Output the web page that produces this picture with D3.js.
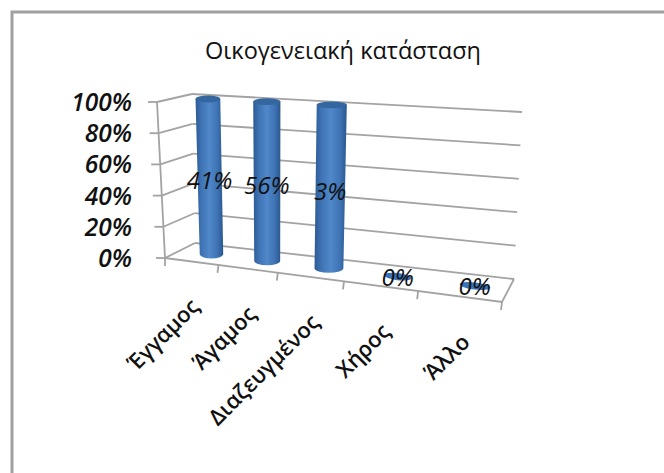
<!DOCTYPE html>
<html lang="el">
<head>
<meta charset="utf-8">
<title>Οικογενειακή κατάσταση</title>
<script src="https://cdn.jsdelivr.net/npm/d3@7"></script>
<style>
  html, body { margin: 0; padding: 0; background: #fff; }
  svg { display: block; }
  text { font-family: "Open Sans", "Noto Sans", sans-serif; fill: #111; }
</style>
</head>
<body>
<svg id="chart" width="664" height="473"></svg>
<script>
const chartTitle = "Οικογενειακή κατάσταση";
const categories = ["Έγγαμος", "Άγαμος", "Διαζευγμένος", "Χήρος", "Άλλο"];
const shares = [0.41, 0.56, 0.03, 0, 0];
const yTicks = [0, 0.2, 0.4, 0.6, 0.8, 1];

// Corners of the 3D plot box on screen: [front-left, front-right, back-right, back-left]
const floorCorners = [[165, 258], [502, 302], [514, 279], [195, 243]];
// Screen vector from 0% to 100% at each of those corners
const riseCorners = [[-8, -156], [13, -180], [8, -167], [-3, -149]];

// Homography from the unit square (u along categories, v into the depth) to a quad
function quadMap(q) {
  const [[x0, y0], [x1, y1], [x2, y2], [x3, y3]] = q;
  const dx1 = x1 - x2, dx2 = x3 - x2, sx = x0 - x1 + x2 - x3;
  const dy1 = y1 - y2, dy2 = y3 - y2, sy = y0 - y1 + y2 - y3;
  const det = dx1 * dy2 - dx2 * dy1;
  const g = (sx * dy2 - dx2 * sy) / det;
  const h = (dx1 * sy - sx * dy1) / det;
  const a = x1 - x0 + g * x1, b = x3 - x0 + h * x3;
  const d = y1 - y0 + g * y1, e = y3 - y0 + h * y3;
  return (u, v) => {
    const w = g * u + h * v + 1;
    return [(a * u + b * v + x0) / w, (d * u + e * v + y0) / w];
  };
}
const floorAt = quadMap(floorCorners);
function riseAt(u, v) {
  const mix = k => (1 - v) * ((1 - u) * riseCorners[0][k] + u * riseCorners[1][k])
    + v * ((1 - u) * riseCorners[3][k] + u * riseCorners[2][k]);
  return [mix(0), mix(1)];
}

// Chart scales work in unit space, the projection takes them to the screen
const xBand = d3.scaleBand().domain(categories).range([0, 1]);
const yShare = d3.scaleLinear().domain([0, 1]).range([0, 1]);
// Columns stand a little right of their band centres in this view
const columnShift = 0.02;
const columnU = c => xBand(c) + xBand.bandwidth() / 2 + columnShift;
function project(u, v, share) {
  const f = floorAt(u, v), r = riseAt(u, v), t = yShare(share);
  return [f[0] + r[0] * t, f[1] + r[1] * t];
}

// Each category is its own 100% column, so any non-zero share fills the axis
const stackRows = categories.map((c, i) => ({ category: c, share: shares[i] }));
const stacked = d3.stack().keys(["share"]).offset(d3.stackOffsetExpand)(stackRows)[0]
  .map(s => ({ category: s.data.category, share: s.data.share, top: s[1] || 0 }));

const svg = d3.select("#chart");
const gridColor = "#a3a3a3";
const pathOf = d3.line();

const defs = svg.append("defs");
const grad = defs.append("linearGradient").attr("id", "cyl");
[[0, "#2c5a94"], [0.22, "#3f74b5"], [0.5, "#5088ca"], [0.78, "#3f74b5"], [1, "#2a5890"]]
  .forEach(([o, c]) => grad.append("stop").attr("offset", o).attr("stop-color", c));

// Worksheet frame around the chart
svg.append("path").attr("d", "M12,473V12H664").attr("fill", "none")
  .attr("stroke", "#a0a0a0").attr("stroke-width", 3);

svg.append("text").attr("x", 343).attr("y", 59).attr("text-anchor", "middle")
  .attr("font-size", 23.5).text(chartTitle);

// Back wall gridlines and the matching lines on the side wall
const grid = svg.append("g").attr("fill", "none").attr("stroke", gridColor).attr("stroke-width", 1.8);
yTicks.forEach(t => {
  grid.append("path").attr("d", pathOf([project(0, 1, t), project(1, 1, t)]));
  grid.append("path").attr("d", pathOf([project(0, 0, t), project(0, 1, t)]));
  const p = project(0, 0, t);
  grid.append("path").attr("d", pathOf([[p[0] - 9, p[1]], p]));
});
// Vertical axis, floor outline and category ticks
grid.append("path").attr("d", pathOf([project(0, 0, 0), project(0, 0, 1)]));
grid.append("path").attr("d", pathOf([project(0, 0, 0), project(1, 0, 0), project(1, 1, 0)]));
categories.forEach((c, i) => {
  const p = project(xBand.step() * (i + 1), 0, 0);
  grid.append("path").attr("d", pathOf([p, [p[0] - 1, p[1] + 8]]));
});
const firstTick = project(0, 0, 0);
grid.append("path").attr("d", pathOf([firstTick, [firstTick[0], firstTick[1] + 8]]));

svg.append("g").selectAll("text").data(yTicks).join("text")
  .attr("x", 132).attr("y", t => project(0, 0, t)[1] + 9)
  .attr("text-anchor", "end").attr("font-size", 24.5)
  .attr("font-style", "italic").attr("font-weight", 600)
  .text(d3.format(".0%"));

// Cylinders: an elliptical cross-section on the floor, one at the column top
const depthMid = 0.5, radiusU = xBand.step() * 0.22, radiusRy = 3.4;
function disc(d, share) {
  const u = columnU(d.category);
  const l = project(u - radiusU, depthMid, share), r = project(u + radiusU, depthMid, share);
  return {
    cx: (l[0] + r[0]) / 2, cy: (l[1] + r[1]) / 2,
    rx: Math.hypot(r[0] - l[0], r[1] - l[1]) / 2,
    angle: Math.atan2(r[1] - l[1], r[0] - l[0]) * 180 / Math.PI
  };
}
const bars = svg.append("g").selectAll("g").data(stacked).join("g");
bars.filter(d => d.top > 0).each(function (d) {
  const b = disc(d, 0), t = disc(d, d.top), g = d3.select(this);
  g.append("path").attr("fill", "url(#cyl)").attr("d",
    `M${t.cx - t.rx},${t.cy}L${b.cx - b.rx},${b.cy}` +
    `A${b.rx},${radiusRy + 1} 0 0 0 ${b.cx + b.rx},${b.cy}` +
    `L${t.cx + t.rx},${t.cy}Z`);
  g.append("ellipse").attr("cx", t.cx).attr("cy", t.cy)
    .attr("rx", t.rx).attr("ry", radiusRy).attr("fill", "#34669f");
});
bars.filter(d => !(d.top > 0)).each(function (d) {
  const b = disc(d, 0);
  d3.select(this).append("ellipse")
    .attr("rx", b.rx * 0.85).attr("ry", 3.6).attr("fill", "#3a72b8")
    .attr("transform", `translate(${b.cx},${b.cy}) rotate(${b.angle})`);
});

// Value labels sit at the middle of each column
svg.append("g").selectAll("text").data(stacked).join("text")
  .attr("text-anchor", "middle").attr("font-size", 24).attr("font-style", "italic").attr("font-weight", 500)
  .attr("transform", d => {
    const p = project(columnU(d.category), depthMid, d.top / 2);
    return `translate(${p[0]},${p[1] + (d.top > 0 ? 13 : 9)})`;
  })
  .text(d => d3.format(".0%")(d.share));

// Slanted category labels below the front edge of the floor
svg.append("g").selectAll("text").data(categories).join("text")
  .attr("text-anchor", "end").attr("font-size", 22).attr("font-weight", 600)
  .attr("transform", c => {
    const p = project(columnU(c), 0, 0);
    return `translate(${p[0] + 4},${p[1] + 46}) rotate(-45)`;
  })
  .text(c => c);
</script>
</body>
</html>
